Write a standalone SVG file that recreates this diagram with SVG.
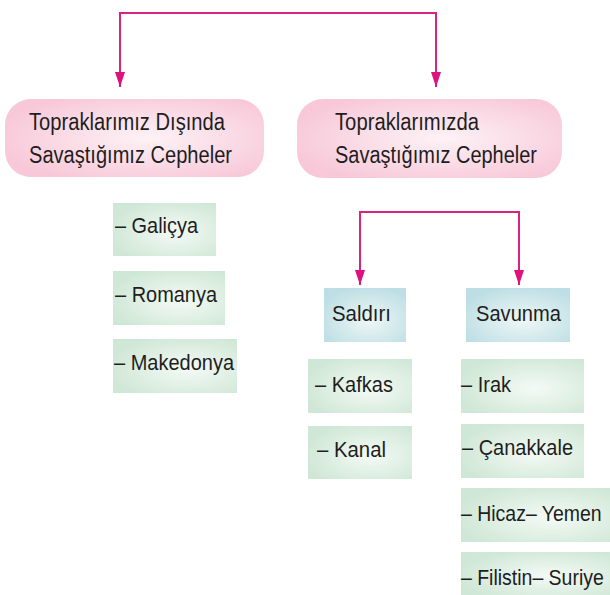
<svg xmlns="http://www.w3.org/2000/svg" width="610" height="595" viewBox="0 0 610 595">
  <style>
    text { font-family: "Liberation Sans", Arial, sans-serif; fill: #1e1e1e; }
    .pt { font-size: 23px; }
    .it { font-size: 22px; }
    .conn { fill: none; stroke: #d9237f; stroke-width: 2; }
    .pill { fill: url(#gPink); }
    .green { fill: url(#gGreen); }
    .blue { fill: url(#gBlue); }
  </style>
  <defs>
    <radialGradient id="gPink" cx="0.55" cy="0.5" r="0.6">
      <stop offset="0" stop-color="#fdf2f6"/>
      <stop offset="1" stop-color="#f8c8d8"/>
    </radialGradient>
    <radialGradient id="gGreen" cx="0.6" cy="0.55" r="0.65">
      <stop offset="0" stop-color="#f4faf5"/>
      <stop offset="1" stop-color="#cfe7d6"/>
    </radialGradient>
    <radialGradient id="gBlue" cx="0.55" cy="0.6" r="0.65">
      <stop offset="0" stop-color="#eef7f6"/>
      <stop offset="1" stop-color="#bddee4"/>
    </radialGradient>
    <marker id="arr" viewBox="0 0 15 10" refX="15" refY="5" markerWidth="15" markerHeight="10" markerUnits="userSpaceOnUse" orient="auto">
      <path d="M0,0 L15,5 L0,10 z" fill="#e0117f"/>
    </marker>
  </defs>

  <g id="connectors">
    <path class="conn" d="M278,13 H120 V87" marker-end="url(#arr)"/>
    <path class="conn" d="M278,13 H436 V87" marker-end="url(#arr)"/>
    <path class="conn" d="M440,212 H360 V285" marker-end="url(#arr)"/>
    <path class="conn" d="M440,212 H519 V285" marker-end="url(#arr)"/>
  </g>

  <g id="disinda">
    <rect class="pill" x="5" y="99" width="259" height="78" rx="26"/>
    <text class="pt" x="29" y="130" textLength="196" lengthAdjust="spacingAndGlyphs">Topraklarımız Dışında</text>
    <text class="pt" x="29" y="163" textLength="203" lengthAdjust="spacingAndGlyphs">Savaştığımız Cepheler</text>
  </g>
  <g id="icinde">
    <rect class="pill" x="297" y="99" width="265" height="79" rx="26"/>
    <text class="pt" x="335" y="130" textLength="144" lengthAdjust="spacingAndGlyphs">Topraklarımızda</text>
    <text class="pt" x="335" y="163" textLength="202" lengthAdjust="spacingAndGlyphs">Savaştığımız Cepheler</text>
  </g>

  <g id="galicya">
    <rect class="green" x="113" y="203" width="103" height="53"/>
    <text class="it" x="115" y="233" textLength="83" lengthAdjust="spacingAndGlyphs">– Galiçya</text>
  </g>
  <g id="romanya">
    <rect class="green" x="113" y="271" width="112" height="54"/>
    <text class="it" x="115" y="302" textLength="102" lengthAdjust="spacingAndGlyphs">– Romanya</text>
  </g>
  <g id="makedonya">
    <rect class="green" x="113" y="339" width="124" height="54"/>
    <text class="it" x="114" y="370" textLength="120" lengthAdjust="spacingAndGlyphs">– Makedonya</text>
  </g>

  <g id="saldiri">
    <rect class="blue" x="324" y="288" width="82" height="54"/>
    <text class="it" x="332" y="321" textLength="59" lengthAdjust="spacingAndGlyphs">Saldırı</text>
  </g>
  <g id="savunma">
    <rect class="blue" x="466" y="288" width="104" height="54"/>
    <text class="it" x="476" y="321" textLength="85" lengthAdjust="spacingAndGlyphs">Savunma</text>
  </g>

  <g id="kafkas">
    <rect class="green" x="308" y="359" width="104" height="54"/>
    <text class="it" x="315" y="392" textLength="78" lengthAdjust="spacingAndGlyphs">– Kafkas</text>
  </g>
  <g id="kanal">
    <rect class="green" x="308" y="426" width="104" height="53"/>
    <text class="it" x="317" y="457" textLength="69" lengthAdjust="spacingAndGlyphs">– Kanal</text>
  </g>

  <g id="irak">
    <rect class="green" x="461" y="359" width="123" height="54"/>
    <text class="it" x="461" y="392" textLength="50" lengthAdjust="spacingAndGlyphs">– Irak</text>
  </g>
  <g id="canakkale">
    <rect class="green" x="461" y="424" width="123" height="54"/>
    <text class="it" x="462" y="455" textLength="111" lengthAdjust="spacingAndGlyphs">– Çanakkale</text>
  </g>
  <g id="hicaz">
    <rect class="green" x="461" y="488" width="149" height="54"/>
    <text class="it" transform="translate(461,521) scale(0.885,1)" x="0" y="0">– Hicaz– Yemen</text>
  </g>
  <g id="filistin">
    <rect class="green" x="461" y="552" width="149" height="43"/>
    <text class="it" transform="translate(461,585) scale(0.885,1)" x="0" y="0">– Filistin– Suriye</text>
  </g>
</svg>
